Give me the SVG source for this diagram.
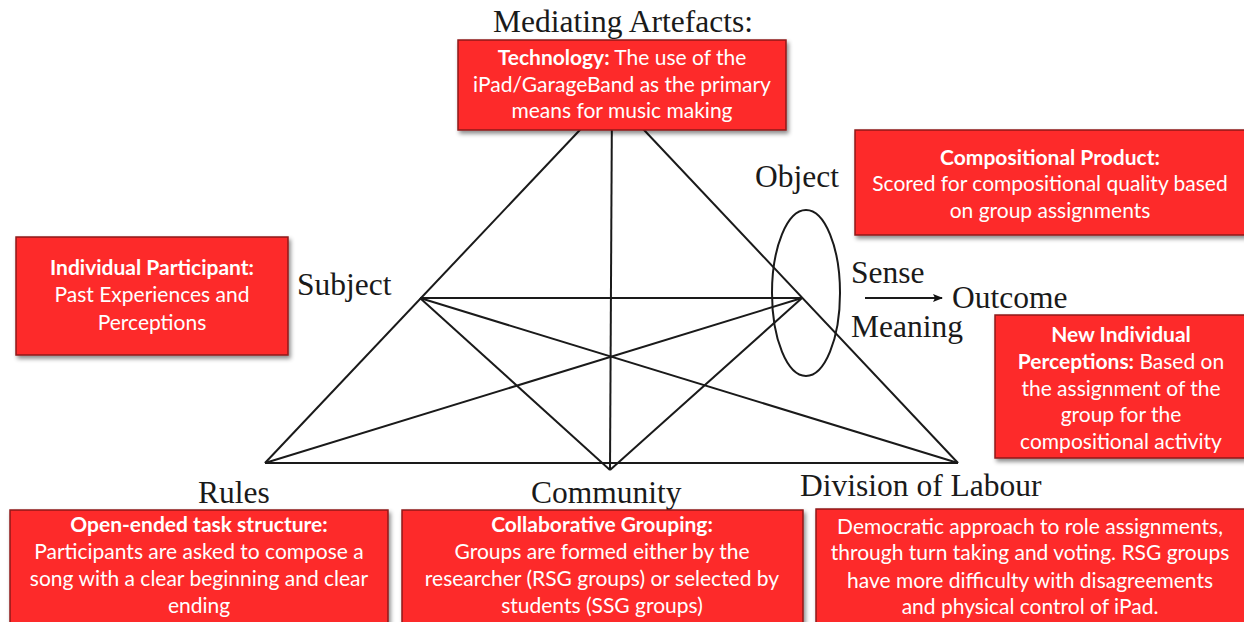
<svg xmlns="http://www.w3.org/2000/svg" width="1244" height="622" viewBox="0 0 1244 622">
<defs>
<filter id="sh" x="-5%" y="-5%" width="115%" height="120%">
<feDropShadow dx="2" dy="3" stdDeviation="2" flood-color="#000" flood-opacity="0.45"/>
</filter>
<marker id="arr" markerWidth="10" markerHeight="8" refX="9" refY="4" orient="auto" markerUnits="userSpaceOnUse">
<path d="M0,0 L10,4 L0,8 L2,4 Z" fill="#111"/>
</marker>
</defs>
<style>
.ln{stroke:#1a1a1a;stroke-width:2;fill:none}
.lbl{font-family:"Liberation Serif",serif;font-size:31.5px;fill:#1a1a1a}
.box{fill:#fd2a2a;stroke:#8e1b1b;stroke-width:1.5;filter:url(#sh)}
.bt{font-family:Lato,"Open Sans",sans-serif;font-size:21px;fill:#fff;text-anchor:middle}
.b{font-weight:bold}
</style>
<rect width="1244" height="622" fill="#fff"/>
<g id="connectors">
<line class="ln" x1="612" y1="96" x2="265" y2="463"/>
<line class="ln" x1="612" y1="96" x2="958" y2="463"/>
<line class="ln" x1="612" y1="96" x2="610" y2="470"/>
<line class="ln" x1="265" y1="463" x2="958" y2="463"/>
<line class="ln" x1="420" y1="298" x2="802" y2="298"/>
<line class="ln" x1="420" y1="298" x2="610" y2="470"/>
<line class="ln" x1="420" y1="298" x2="958" y2="463"/>
<line class="ln" x1="802" y1="298" x2="610" y2="470"/>
<line class="ln" x1="802" y1="298" x2="265" y2="463"/>
<ellipse class="ln" cx="806" cy="293" rx="34" ry="83"/>
<line class="ln" x1="865" y1="298" x2="942" y2="298" marker-end="url(#arr)"/>
</g>
<g id="labels">
<text class="lbl" x="623" y="32" text-anchor="middle">Mediating Artefacts:</text>
<text class="lbl" x="755" y="187">Object</text>
<text class="lbl" x="297" y="295">Subject</text>
<text class="lbl" x="851" y="283">Sense</text>
<text class="lbl" x="952" y="308">Outcome</text>
<text class="lbl" x="851" y="337">Meaning</text>
<text class="lbl" x="198" y="503">Rules</text>
<text class="lbl" x="531" y="503">Community</text>
<text class="lbl" x="800" y="496">Division of Labour</text>
</g>
<g id="technology">
<rect class="box" x="458" y="40" width="328" height="90"/>
<text class="bt" x="622" y="65"><tspan class="b">Technology:</tspan> The use of the</text>
<text class="bt" x="622" y="92">iPad/GarageBand as the primary</text>
<text class="bt" x="622" y="118">means for music making</text>
</g>
<g id="compositional-product">
<rect class="box" x="855" y="130" width="390" height="105"/>
<text class="bt" x="1050" y="165"><tspan class="b">Compositional Product:</tspan></text>
<text class="bt" x="1050" y="191">Scored for compositional quality based</text>
<text class="bt" x="1050" y="218">on group assignments</text>
</g>
<g id="individual-participant">
<rect class="box" x="16" y="237" width="272" height="118"/>
<text class="bt" x="152" y="275"><tspan class="b">Individual Participant:</tspan></text>
<text class="bt" x="152" y="302">Past Experiences and</text>
<text class="bt" x="152" y="330">Perceptions</text>
</g>
<g id="new-perceptions">
<rect class="box" x="995" y="315" width="250" height="143"/>
<text class="bt" x="1121" y="342"><tspan class="b">New Individual</tspan></text>
<text class="bt" x="1121" y="369"><tspan class="b">Perceptions:</tspan> Based on</text>
<text class="bt" x="1121" y="396">the assignment of the</text>
<text class="bt" x="1121" y="422">group for the</text>
<text class="bt" x="1121" y="449">compositional activity</text>
</g>
<g id="rules-box">
<rect class="box" x="10" y="510" width="378" height="115"/>
<text class="bt" x="199" y="532"><tspan class="b">Open-ended task structure:</tspan></text>
<text class="bt" x="199" y="559">Participants are asked to compose a</text>
<text class="bt" x="199" y="586">song with a clear beginning and clear</text>
<text class="bt" x="199" y="613">ending</text>
</g>
<g id="community-box">
<rect class="box" x="402" y="510" width="401" height="115"/>
<text class="bt" x="602" y="532"><tspan class="b">Collaborative Grouping:</tspan></text>
<text class="bt" x="602" y="559">Groups are formed either by the</text>
<text class="bt" x="602" y="586">researcher (RSG groups) or selected by</text>
<text class="bt" x="602" y="613">students (SSG groups)</text>
</g>
<g id="division-box">
<rect class="box" x="816" y="509" width="430" height="116"/>
<text class="bt" x="1030" y="534">Democratic approach to role assignments,</text>
<text class="bt" x="1030" y="560">through turn taking and voting. RSG groups</text>
<text class="bt" x="1030" y="588">have more difficulty with disagreements</text>
<text class="bt" x="1030" y="614">and physical control of iPad.</text>
</g>
</svg>
